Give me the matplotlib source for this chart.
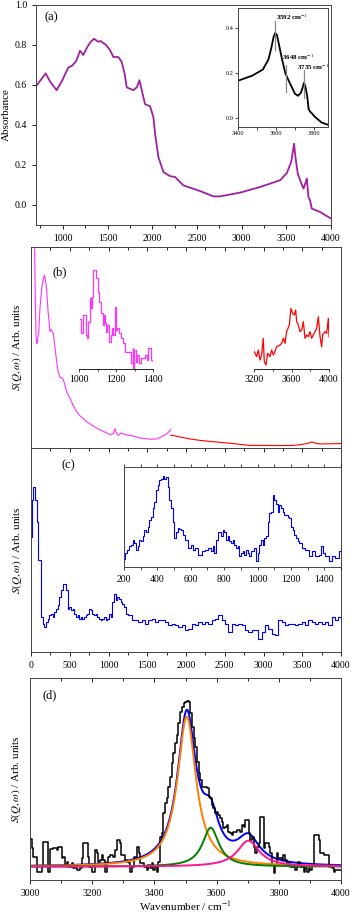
import matplotlib
matplotlib.use('Agg')
import matplotlib.pyplot as plt
from matplotlib.ticker import MultipleLocator, NullFormatter
import numpy as np

plt.rcParams['font.family'] = ['Liberation Serif', 'DejaVu Serif']
plt.rcParams['mathtext.fontset'] = 'stix'

# ---- panel (a): IR absorbance ----
ir_x = [700, 745, 808, 860, 931, 990, 1062, 1100, 1150, 1192, 1229, 1274, 1310, 1349,
        1397, 1423, 1483, 1528, 1565, 1621, 1658, 1690, 1715, 1790, 1830, 1857, 1883,
        1920, 1976, 2013, 2032, 2069, 2125, 2200, 2256, 2348, 2535, 2684, 2759, 2983,
        3207, 3431, 3506, 3555, 3587, 3602, 3628, 3662, 3692, 3718, 3729, 3748, 3766,
        3785, 3878, 4000]
ir_y = [0.594, 0.62, 0.658, 0.615, 0.574, 0.62, 0.688, 0.695, 0.72, 0.771, 0.75, 0.79,
        0.815, 0.831, 0.816, 0.82, 0.80, 0.775, 0.74, 0.74, 0.716, 0.66, 0.588, 0.574,
        0.59, 0.624, 0.574, 0.504, 0.494, 0.44, 0.357, 0.24, 0.165, 0.144, 0.14, 0.098,
        0.07, 0.043, 0.043, 0.062, 0.09, 0.124, 0.16, 0.215, 0.307, 0.24, 0.157, 0.115,
        0.082, 0.115, 0.132, 0.04, 0.023, -0.018, -0.035, -0.068]

irz_x = [3400, 3476, 3531, 3560, 3575, 3587, 3596, 3605, 3615, 3631, 3649, 3676, 3700,
         3716, 3731, 3742, 3748, 3755, 3764, 3772, 3780, 3790, 3804, 3840, 3874]
irz_y = [0.166, 0.189, 0.216, 0.26, 0.31, 0.36, 0.379, 0.37, 0.33, 0.265, 0.2, 0.15,
         0.108, 0.099, 0.112, 0.14, 0.158, 0.14, 0.1, 0.04, 0.028, 0.02, 0.006, -0.02,
         -0.03]
peak_pos = [3596, 3654, 3746]
peak_lbl = ['3592 cm$^{-1}$', '3648 cm$^{-1}$', '3735 cm$^{-1}$']

# ---- panel (b): INS, low and high energy parts ----
b_low_x = [40, 47, 55, 65, 75, 82, 100, 116, 140, 159, 172, 185, 202, 220, 245, 260,
           288, 310, 331, 350, 374, 396, 417, 440, 460, 500, 546, 590, 632, 680, 720,
           761, 820, 890, 950, 1019, 1060, 1084, 1100, 1127, 1160, 1191, 1240, 1320,
           1400, 1492, 1560, 1621, 1680, 1750, 1790, 1802]
b_low_y = [120, 100, 75, 56, 52, 53, 58, 70, 80, 84, 86, 84, 79, 68, 58, 59, 57, 50,
           43, 38, 35, 35, 34, 31, 28, 25, 21, 18, 16, 14.5, 13, 12, 10.5, 9, 8, 6.6,
           7, 9.6, 7.5, 6.3, 7.5, 7, 6.5, 6, 5, 4.6, 4.3, 4.6, 5.5, 7, 8.5, 9.3]
b_high_x = [1802, 1860, 1922, 2050, 2180, 2300, 2395, 2500, 2610, 2700, 2825, 3041,
            3200, 3385, 3500, 3580, 3622, 3660, 3729, 3850, 3996]
b_high_y = [6.3, 6, 5.5, 4.5, 3.8, 3.3, 3, 2.6, 2.2, 1.8, 1.3, 1.3, 1.2, 1.3, 1.8, 2.4,
            3, 2.5, 2, 2.1, 2.2]

bz1_x = [1005, 1009, 1023, 1036, 1045, 1050, 1059, 1063, 1068, 1074, 1092, 1100, 1104,
         1109, 1118, 1127, 1135, 1140, 1145, 1152, 1163, 1172, 1179, 1185, 1194, 1199,
         1206, 1213, 1224, 1235, 1248, 1280, 1289, 1292, 1298, 1307, 1314, 1323, 1334,
         1355, 1364, 1373, 1386, 1396, 1400]
bz1_y = [149, 107, 162, 102, 92, 142, 212, 182, 217, 297, 272, 257, 232, 202, 167, 132,
         162, 137, 112, 132, 82, 102, 122, 102, 187, 117, 122, 107, 92, 77, 52, 17, 62,
         2, 57, 22, 42, 17, 32, 42, 27, 62, 27, 17, 17]

bz2_x = [3200, 3225, 3243, 3261, 3279, 3296, 3307, 3325, 3343, 3368, 3386, 3404, 3421,
         3439, 3475, 3493, 3511, 3529, 3546, 3575, 3593, 3611, 3629, 3643, 3654, 3671,
         3689, 3707, 3725, 3743, 3761, 3779, 3796, 3814, 3832, 3850, 3868, 3886, 3904,
         3921, 3932, 3957, 3975, 3993, 4000]
bz2_y = [52, 37, 57, 27, 42, 92, 22, 12, 47, 37, 57, 42, 52, 67, 72, 77, 92, 77, 112,
         132, 182, 167, 162, 177, 142, 132, 112, 117, 142, 92, 102, 97, 112, 92, 102,
         112, 122, 157, 97, 67, 102, 112, 107, 152, 97]

# ---- panel (c): INS full range ----
c_x = [9, 21, 43, 60, 82, 108, 138, 159, 181, 202, 224, 245, 267, 288, 310, 331, 353,
       374, 396, 417, 439, 460, 482, 503, 525, 546, 568, 589, 611, 632, 654, 675, 697,
       718, 740, 761, 783, 804, 826, 847, 869, 890, 912, 933, 955, 976, 998, 1019, 1041,
       1062, 1084, 1105, 1127, 1148, 1170, 1191, 1213, 1234, 1277, 1320, 1363, 1406,
       1449, 1492, 1535, 1578, 1621, 1664, 1707, 1750, 1793, 1836, 1879, 1922, 1965,
       2008, 2051, 2095, 2138, 2181, 2224, 2266, 2309, 2352, 2395, 2438, 2481, 2524,
       2567, 2610, 2653, 2696, 2739, 2782, 2825, 2868, 2911, 2954, 2997, 3041, 3084,
       3127, 3170, 3213, 3256, 3299, 3342, 3385, 3428, 3471, 3514, 3557, 3600, 3643,
       3686, 3729, 3772, 3815, 3858, 3901, 3944, 3987]
c_y = [343, 455, 495, 455, 390, 275, 105, 85, 75, 90, 100, 110, 115, 105, 120, 130,
       140, 165, 185, 205, 205, 185, 130, 135, 125, 130, 115, 105, 110, 100, 105, 100,
       105, 110, 115, 130, 125, 115, 110, 115, 105, 100, 95, 100, 105, 95, 100, 115,
       105, 150, 175, 155, 165, 160, 150, 145, 135, 115, 110, 95, 95, 90, 95, 85, 95,
       100, 90, 95, 95, 90, 80, 85, 80, 75, 80, 65, 70, 85, 80, 90, 85, 90, 85, 95, 100,
       110, 95, 85, 60, 85, 80, 85, 80, 65, 60, 65, 65, 40, 60, 80, 70, 55, 50, 95, 90,
       80, 85, 85, 80, 85, 90, 80, 95, 90, 85, 90, 85, 90, 80, 105, 95, 105]

cz_x = [200, 212, 226, 236, 246, 256, 266, 276, 286, 296, 306, 316, 326, 336, 346, 356,
        366, 376, 386, 396, 406, 416, 426, 436, 446, 456, 466, 476, 486, 496, 506, 516,
        526, 536, 546, 556, 576, 596, 606, 616, 636, 656, 676, 696, 716, 726, 736, 746,
        756, 766, 776, 786, 796, 806, 816, 826, 836, 846, 856, 866, 876, 886, 896, 906,
        916, 926, 936, 946, 956, 966, 976, 986, 996, 1006, 1016, 1026, 1036, 1046, 1056,
        1066, 1076, 1086, 1096, 1106, 1116, 1126, 1136, 1146, 1156, 1166, 1176, 1186,
        1196, 1206, 1216, 1226, 1236, 1246, 1256, 1276, 1296, 1316, 1336, 1356, 1376,
        1386, 1396, 1416, 1436, 1456, 1476, 1496]
cz_y = [22, 42, 52, 62, 67, 82, 72, 52, 62, 82, 77, 92, 112, 107, 122, 142, 152, 177,
        197, 232, 247, 264, 267, 277, 267, 272, 242, 202, 177, 137, 87, 107, 117, 114,
        112, 97, 82, 57, 67, 52, 57, 37, 47, 52, 57, 47, 62, 42, 82, 107, 107, 92, 112,
        107, 82, 92, 77, 72, 82, 67, 57, 62, 32, 42, 47, 37, 52, 42, 32, 47, 47, 57, 17,
        42, 67, 82, 67, 87, 92, 137, 162, 167, 217, 202, 192, 167, 187, 177, 167, 157,
        157, 152, 147, 122, 112, 97, 87, 77, 72, 57, 52, 32, 47, 32, 37, 62, 42, 32, 17,
        32, 27, 47]

# ---- panel (d): OH stretch region and fit ----
d_x = [3000, 3005, 3011, 3021, 3032, 3038, 3043, 3054, 3059, 3064, 3075, 3086, 3091,
       3097, 3102, 3107, 3113, 3118, 3123, 3134, 3139, 3150, 3161, 3166, 3172, 3180,
       3185, 3191, 3198, 3209, 3215, 3220, 3225, 3231, 3236, 3241, 3247, 3252, 3258,
       3268, 3274, 3279, 3288, 3292, 3298, 3306, 3311, 3317, 3322, 3327, 3333, 3343,
       3349, 3354, 3365, 3376, 3381, 3386, 3392, 3397, 3402, 3408, 3413, 3418, 3424,
       3429, 3435, 3440, 3445, 3451, 3456, 3461, 3467, 3472, 3477, 3483, 3488, 3494,
       3499, 3504, 3510, 3515, 3520, 3526, 3531, 3536, 3542, 3547, 3553, 3558, 3563,
       3569, 3574, 3579, 3585, 3590, 3595, 3601, 3606, 3612, 3617, 3622, 3628, 3633,
       3638, 3644, 3649, 3654, 3660, 3665, 3670, 3676, 3681, 3687, 3692, 3697, 3703,
       3708, 3713, 3719, 3724, 3730, 3735, 3740, 3746, 3751, 3756, 3762, 3767, 3773,
       3778, 3783, 3789, 3794, 3799, 3805, 3810, 3815, 3821, 3826, 3831, 3837, 3842,
       3848, 3853, 3858, 3863, 3869, 3874, 3880, 3885, 3891, 3896, 3901, 3906, 3912,
       3917, 3923, 3928, 3933, 3938, 3944, 3949, 3955, 3960, 3966, 3971, 3976, 3982,
       3987, 4000]
d_y = [122, 95, 70, 25, 25, 40, 115, 115, 25, 92, 95, 90, 100, 100, 65, 70, 45, 55, 40,
       50, 35, 30, 35, 65, 110, 110, 70, 40, 25, 90, 80, 55, 60, 75, 60, 25, 55, 70, 75,
       70, 90, 120, 110, 75, 75, 60, 55, 50, 25, 40, 70, 100, 80, 50, 40, 30, 45, 35,
       50, 30, 40, 25, 55, 130, 140, 200, 230, 245, 280, 310, 350, 380, 410, 435, 470,
       505, 520, 530, 535, 538, 535, 500, 460, 425, 400, 355, 320, 300, 280, 280, 280,
       275, 250, 245, 225, 215, 200, 205, 195, 185, 175, 155, 160, 165, 145, 140, 135,
       145, 145, 150, 150, 145, 165, 160, 180, 180, 140, 120, 130, 100, 80, 100, 110,
       190, 190, 95, 110, 110, 100, 80, 45, 20, 45, 80, 65, 65, 60, 75, 60, 50, 50, 40,
       40, 45, 30, 40, 55, 40, 40, 25, 35, 25, 35, 30, 45, 135, 135, 135, 120, 80, 80,
       75, 75, 75, 40, 45, 35, 25, 30, 30, 30]

fit_base = 40
fit_centre = [3504, 3581, 3702]
fit_width = [36, 32, 43]
fit_height = [450, 117, 78]
fit_colors = ['#ff8000', '#008000', '#ff1493']


def lorentz(x, c, w, h):
    return h * w ** 2 / ((x - c) ** 2 + w ** 2)


def style_x(ax, major, minor, top_in=True, labels=True):
    ax.xaxis.set_major_locator(MultipleLocator(major))
    ax.xaxis.set_minor_locator(MultipleLocator(minor))
    ax.tick_params(axis='x', which='both', direction='out', labelsize=7,
                   labelbottom=labels, width=0.6)
    ax.tick_params(axis='x', which='major', length=3)
    ax.tick_params(axis='x', which='minor', length=2)
    if top_in:
        # ticks pointing inwards along the top edge, no labels
        sec = ax.secondary_xaxis('top')
        sec.xaxis.set_major_locator(MultipleLocator(major))
        sec.xaxis.set_minor_locator(MultipleLocator(minor))
        sec.xaxis.set_major_formatter(NullFormatter())
        sec.tick_params(which='both', direction='in', width=0.6)
        sec.tick_params(which='major', length=3)
        sec.tick_params(which='minor', length=2)
        sec.spines['top'].set_linewidth(0.7)
        sec.spines['top'].set_color('#444444')
    for s in ax.spines.values():
        s.set_linewidth(0.7)
        s.set_color('#444444')


def ins_label(ax):
    ax.set_ylabel(r'$S(Q,\omega)$ / Arb. units', fontsize=8, labelpad=5)
    ax.set_yticks([])


fig = plt.figure(figsize=(3.54, 9.14), dpi=100)
W, H = 354.0, 914.0


def box(l, t, r, b):
    return [l / W, 1 - b / H, (r - l) / W, (b - t) / H]


# (a)
ax_a = fig.add_axes(box(36, 5, 331, 225))
ax_a.plot(ir_x, ir_y, color='#a020a0', lw=1.3)
ax_a.set_xlim(700, 4000)
ax_a.set_ylim(-0.1, 1.0)
style_x(ax_a, 500, 250, top_in=False)
ax_a.yaxis.set_major_locator(MultipleLocator(0.2))
ax_a.tick_params(axis='y', direction='out', length=3, labelsize=7, width=0.6)
ax_a.set_ylabel('Absorbance', fontsize=8, labelpad=3)
ax_a.text(0.03, 0.93, '(a)', transform=ax_a.transAxes, fontsize=9)

ax_ai = fig.add_axes(box(238, 8, 328, 127))
ax_ai.plot(irz_x, irz_y, color='black', lw=1.3)
ax_ai.set_xlim(3400, 3874)
ax_ai.set_ylim(-0.04, 0.49)
ax_ai.xaxis.set_major_locator(MultipleLocator(200))
ax_ai.xaxis.set_minor_locator(MultipleLocator(100))
ax_ai.yaxis.set_major_locator(MultipleLocator(0.2))
ax_ai.tick_params(which='both', direction='out', labelsize=4.5, length=2, width=0.5, pad=1)
for s in ax_ai.spines.values():
    s.set_linewidth(0.7)
    s.set_color('#444444')
for px, (y0, y1), lbl, (tx, ty) in zip(peak_pos, [(0.305, 0.43), (0.114, 0.238), (0.087, 0.215)],
                                      peak_lbl, [(3598, 0.448), (3631, 0.27), (3711, 0.226)]):
    ax_ai.plot([px, px], [y0, y1], color='#888888', lw=0.9)
    ax_ai.text(tx, ty, lbl, fontsize=5, fontweight='bold', va='center', ha='left')

# (b)
ax_b = fig.add_axes(box(31, 247, 341, 448))
ax_b.plot(b_low_x, b_low_y, color='#ff33ff', lw=0.8)
ax_b.plot(b_high_x, b_high_y, color='#ff0000', lw=0.8)
ax_b.set_xlim(0, 4000)
ax_b.set_ylim(0, 100)
style_x(ax_b, 500, 250, labels=False)
ax_b.tick_params(axis='x', which='both', bottom=False)
ins_label(ax_b)
ax_b.text(0.07, 0.86, '(b)', transform=ax_b.transAxes, fontsize=9)

for pos, xs, ys, col, lim, steps in [((79, 265, 153.3, 369), bz1_x, bz1_y, '#ff33ff', (1000, 1400), True),
                                     ((254.3, 265, 329, 369), bz2_x, bz2_y, '#ff0000', (3200, 4000), False)]:
    axi = fig.add_axes(box(*pos))
    axi.patch.set_alpha(0)
    if steps:
        axi.step(xs, ys, where='post', color=col, lw=0.9)
    else:
        axi.plot(xs, ys, color=col, lw=0.9)
    axi.set_xlim(*lim)
    axi.set_ylim(0, 312)
    for k in ['left', 'right', 'top']:
        axi.spines[k].set_visible(False)
    axi.spines['bottom'].set_linewidth(0.6)
    axi.set_yticks([])
    axi.xaxis.set_major_locator(MultipleLocator(200 if steps else 400))
    axi.xaxis.set_minor_locator(MultipleLocator(100 if steps else 200))
    axi.tick_params(axis='x', which='both', direction='out', labelsize=7, width=0.5, pad=1.5)
    axi.tick_params(axis='x', which='major', length=2.5)
    axi.tick_params(axis='x', which='minor', length=1.5)

# (c)
ax_c = fig.add_axes(box(31, 448, 341, 652))
ax_c.step(c_x, c_y, where='mid', color='#0000ff', lw=0.8)
ax_c.set_xlim(0, 4000)
ax_c.set_ylim(0, 611)
style_x(ax_c, 500, 250)
ins_label(ax_c)
ax_c.text(0.1, 0.9, '(c)', transform=ax_c.transAxes, fontsize=9)

ax_ci = fig.add_axes(box(124, 466.7, 341, 566.7))
ax_ci.step(cz_x, cz_y, where='mid', color='#0000ff', lw=0.8)
ax_ci.set_xlim(200, 1500)
ax_ci.set_ylim(0, 304)
ax_ci.set_yticks([])
ax_ci.xaxis.set_major_locator(MultipleLocator(200))
ax_ci.xaxis.set_minor_locator(MultipleLocator(100))
ax_ci.tick_params(axis='x', which='both', direction='out', top=True, labelsize=7,
                  width=0.5, length=2.5)
for s in ax_ci.spines.values():
    s.set_linewidth(0.7)
    s.set_color('#444444')

# (d)
ax_d = fig.add_axes(box(30, 678, 341, 880))
ax_d.step(d_x, d_y, where='post', color='black', lw=1.1)
xf = np.linspace(3000, 4000, 401)
total = np.full_like(xf, fit_base, dtype=float)
for c, w, h in zip(fit_centre, fit_width, fit_height):
    total += lorentz(xf, c, w, h)
for c, w, h, col in zip(fit_centre, fit_width, fit_height, fit_colors):
    ax_d.plot(xf, fit_base + lorentz(xf, c, w, h), color=col, lw=1.4)
ax_d.plot(xf, total, color='#0000ff', lw=1.4, zorder=1.5)
ax_d.set_xlim(3000, 4000)
ax_d.set_ylim(0, 606)
style_x(ax_d, 200, 100)
ins_label(ax_d)
ax_d.set_xlabel('Wavenumber / cm$^{-1}$', fontsize=8, labelpad=1)
ax_d.text(0.04, 0.9, '(d)', transform=ax_d.transAxes, fontsize=9)

fig.savefig('out.png', dpi=100)
